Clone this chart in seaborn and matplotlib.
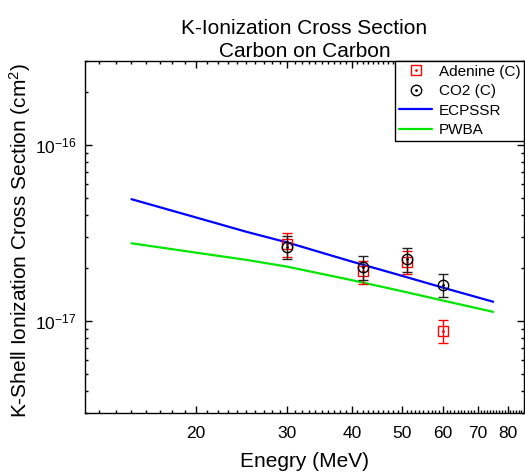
import numpy as np
import pandas as pd
import matplotlib
matplotlib.use("Agg")
import matplotlib.pyplot as plt
import matplotlib.ticker as mticker
from matplotlib.lines import Line2D
from matplotlib.legend_handler import HandlerTuple
import seaborn as sns

# measured K-shell cross sections (cm^2) vs projectile energy (MeV)
energy_meas = [30, 42, 51, 60]
adenine_sigma = [2.74e-17, 1.92e-17, 2.17e-17, 0.88e-17]
adenine_err = [0.42e-17, 0.29e-17, 0.32e-17, 0.13e-17]
co2_sigma = [2.65e-17, 2.03e-17, 2.25e-17, 1.61e-17]
co2_err = [0.40e-17, 0.32e-17, 0.35e-17, 0.24e-17]

# theory curves
energy_theory = [15, 20, 25, 30, 40, 50, 60, 75]
ecpssr_sigma = [4.93e-17, 3.88e-17, 3.22e-17, 2.80e-17, 2.18e-17, 1.81e-17, 1.55e-17, 1.29e-17]
pwba_sigma = [2.77e-17, 2.45e-17, 2.23e-17, 2.04e-17, 1.71e-17, 1.48e-17, 1.31e-17, 1.13e-17]

x_major = [20, 30, 40, 50, 60, 70, 80]
y_major = [1e-17, 1e-16]

sns.set_style("ticks")
plt.rcParams.update({
    'font.family': ['Liberation Sans', 'DejaVu Sans'],
    'mathtext.fontset': 'custom',
    'mathtext.rm': 'Liberation Sans',
    'mathtext.it': 'Liberation Sans:italic',
    'axes.unicode_minus': False,
    'axes.linewidth': 1.0,
    'text.color': 'black',
    'axes.labelcolor': 'black',
    'axes.edgecolor': 'black',
    'xtick.color': 'black',
    'ytick.color': 'black',
})

theory = pd.DataFrame({
    'Energy': energy_theory * 2,
    'Sigma': ecpssr_sigma + pwba_sigma,
    'Model': ['ECPSSR'] * len(energy_theory) + ['PWBA'] * len(energy_theory),
})
line_colors = {'ECPSSR': '#0000ff', 'PWBA': '#00e600'}

fig = plt.figure(figsize=(5.25, 4.76), dpi=100)
ax = fig.add_axes([0.1619, 0.1317, 0.998 - 0.1619, 0.8718 - 0.1317])

sns.lineplot(data=theory, x='Energy', y='Sigma', hue='Model',
             palette=line_colors, linewidth=1.6, legend=False, ax=ax)

ax.errorbar(energy_meas, adenine_sigma, yerr=adenine_err, fmt='s',
            ms=6.5, mfc='none', mec='red', mew=1.0, ecolor='red',
            elinewidth=1.0, capsize=3.5, capthick=1.0, zorder=3)
ax.plot(energy_meas, adenine_sigma, 'o', ms=1.0, color='red', zorder=3)
ax.errorbar(energy_meas, co2_sigma, yerr=co2_err, fmt='o',
            ms=7.5, mfc='none', mec='black', mew=1.0, ecolor='#222222',
            elinewidth=1.0, capsize=3.5, capthick=1.0, zorder=4)
ax.plot(energy_meas, co2_sigma, 'o', ms=1.0, color='black', zorder=4)

ax.set_xscale('log')
ax.set_yscale('log')
ax.set_xlim(12.2, 86)
ax.set_ylim(3e-18, 3e-16)

ax.xaxis.set_major_locator(mticker.FixedLocator(x_major))
ax.xaxis.set_major_formatter(mticker.FixedFormatter([str(v) for v in x_major]))
x_minor = [v for v in range(13, 87) if v not in x_major]
ax.xaxis.set_minor_locator(mticker.FixedLocator(x_minor))
ax.xaxis.set_minor_formatter(mticker.NullFormatter())
ax.yaxis.set_major_locator(mticker.FixedLocator(y_major))
ax.yaxis.set_major_formatter(mticker.LogFormatterSciNotation())
y_minor = [m * 10.0 ** e for e in (-18, -17, -16) for m in range(2, 10)
           if 3e-18 <= m * 10.0 ** e <= 3e-16]
ax.yaxis.set_minor_locator(mticker.FixedLocator(y_minor))
ax.yaxis.set_minor_formatter(mticker.NullFormatter())

ax.tick_params(which='both', direction='in', top=True, right=True,
               width=1.0, labelsize=12.5, pad=6)
ax.tick_params(which='major', length=5)
ax.tick_params(which='minor', length=2.5)
ax.tick_params(axis='x', which='major', pad=9)

ax.set_xlabel('Enegry (MeV)', fontsize=15, labelpad=8)
ax.set_ylabel('K-Shell Ionization Cross Section (cm$^2$)', fontsize=15)
ax.yaxis.set_label_coords(-0.118, 0.49)
ax.set_title('K-Ionization Cross Section\nCarbon on Carbon', fontsize=15,
             pad=3, linespacing=1.25)

handles = [
    (Line2D([], [], ls='none', marker='s', ms=6.5, mfc='none', mec='red', mew=1.0),
     Line2D([], [], ls='none', marker='o', ms=1.0, color='red')),
    (Line2D([], [], ls='none', marker='o', ms=7.5, mfc='none', mec='black', mew=1.0),
     Line2D([], [], ls='none', marker='o', ms=1.0, color='black')),
    Line2D([], [], color=line_colors['ECPSSR'], lw=1.6),
    Line2D([], [], color=line_colors['PWBA'], lw=1.6),
]
labels = ['Adenine (C)', 'CO2 (C)', 'ECPSSR', 'PWBA']
leg = ax.legend(handles, labels, handler_map={tuple: HandlerTuple(ndivide=1)},
                loc='upper right', borderaxespad=0, fontsize=11, frameon=True,
                fancybox=False, edgecolor='black', framealpha=1,
                handlelength=2.2, handletextpad=0.4, labelspacing=0.35,
                borderpad=0.25, numpoints=1)
leg.get_frame().set_linewidth(1.0)

fig.savefig('out.png', dpi=100)
